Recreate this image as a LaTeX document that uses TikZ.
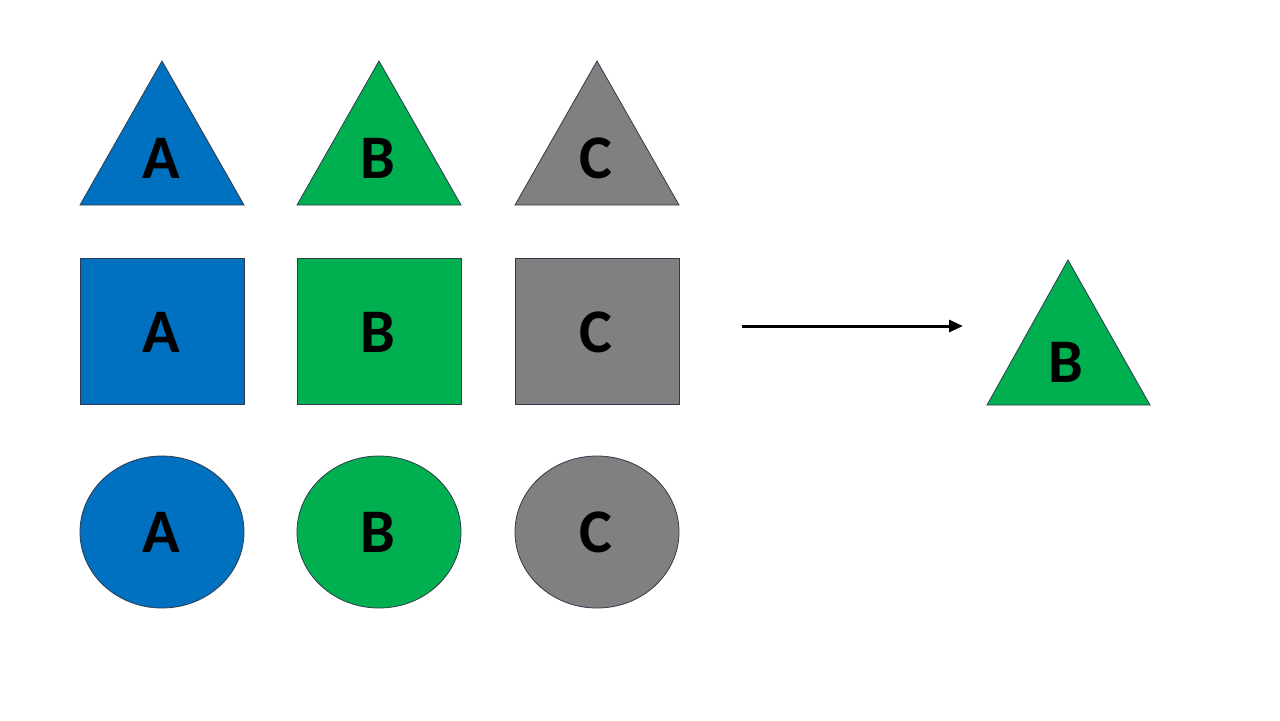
\documentclass[tikz,border=0pt]{standalone}
\usepackage{fontspec}
\setmainfont{Carlito}
\usetikzlibrary{arrows.meta}
\definecolor{cA}{HTML}{0070C0}
\definecolor{cB}{HTML}{00B050}
\definecolor{cC}{HTML}{808080}
\definecolor{edge}{HTML}{2F3B4C}
\tikzset{shp/.style={draw=edge,line width=0.4pt},
 lbl/.style={font=\bfseries\fontsize{31}{31}\selectfont,text=black,inner sep=0pt}}
\begin{document}
\begin{tikzpicture}[x=0.5pt,y=-0.5pt]
\useasboundingbox[fill=white] (0,0) rectangle (1280,720);
\foreach \c/\x/\t in {cA/162/A,cB/379/B,cC/597/C}{
  \fill[\c,shp] (\x,61) -- (\x+82,205) -- (\x-82,205) -- cycle;
  \node[lbl] (t\t) at (\x-1,158) {\t};
  \fill[\c,shp] (\x-82,258) rectangle (\x+82,404);
  \node[lbl] (s\t) at (\x-1,332) {\t};
  \fill[\c,shp] (\x,532) ellipse [x radius=82,y radius=76];
  \node[lbl] (e\t) at (\x-1,532) {\t};
}
\fill[cB,shp] (1068,260) -- (1150,405) -- (987,405) -- cycle;
\node[lbl] (rB) at (1066,362) {B};
\coordinate (a1) at (742,326);
\coordinate (a2) at (963,326);
\draw[line width=1.5pt,-{Triangle[length=7pt,width=6pt]}] (a1) -- (a2);
\end{tikzpicture}
\end{document}
